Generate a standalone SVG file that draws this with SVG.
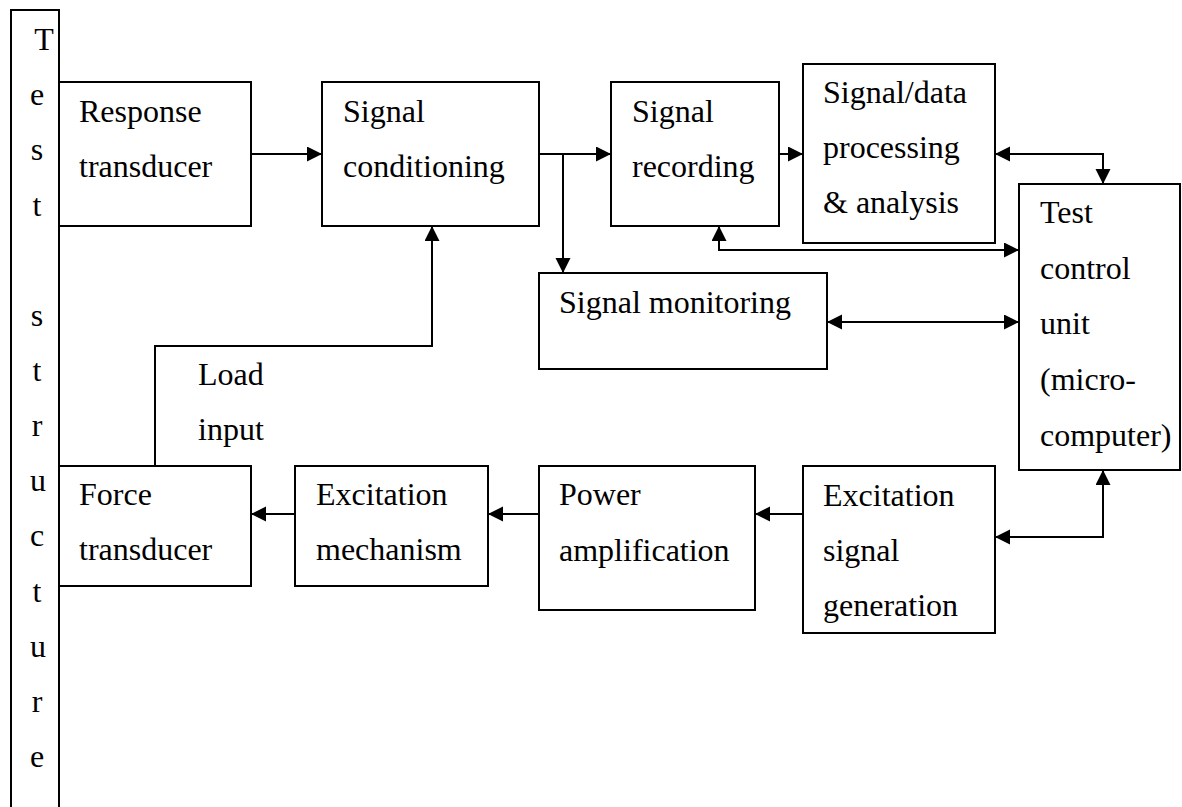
<svg xmlns="http://www.w3.org/2000/svg" width="1182" height="807" viewBox="0 0 1182 807">
  <style>
    .box { fill: #ffffff; stroke: #000000; stroke-width: 2; }
    .lbl { font-family: "Liberation Serif", "Times New Roman", serif; font-size: 32px; fill: #000000; }
    .ch { font-family: "Liberation Serif", "Times New Roman", serif; font-size: 32px; fill: #000000; text-anchor: middle; }
    .wire { fill: none; stroke: #000000; stroke-width: 2; }
    .a1 { marker-end: url(#arr); }
    .a2 { marker-start: url(#arr); marker-end: url(#arr); }
  </style>
  <defs>
    <marker id="arr" markerUnits="userSpaceOnUse" markerWidth="16" markerHeight="16" refX="15" refY="7.5" orient="auto-start-reverse">
      <path d="M0,0 L15,7.5 L0,15 z" fill="#000000"/>
    </marker>
  </defs>
  <rect width="1182" height="807" fill="#ffffff"/>

  <g id="test-structure">
    <rect class="box" x="11" y="10" width="48" height="820"/>
    <text class="ch" x="44" y="50">T</text>
    <text class="ch" x="37" y="105">e</text>
    <text class="ch" x="37" y="160">s</text>
    <text class="ch" x="37" y="215.5">t</text>
    <text class="ch" x="37" y="326">s</text>
    <text class="ch" x="37" y="381">t</text>
    <text class="ch" x="37" y="436">r</text>
    <text class="ch" x="38" y="491">u</text>
    <text class="ch" x="37" y="546">c</text>
    <text class="ch" x="37" y="601.5">t</text>
    <text class="ch" x="38" y="657">u</text>
    <text class="ch" x="37" y="712">r</text>
    <text class="ch" x="37" y="767">e</text>
  </g>

  <g id="connectors">
    <path class="wire a1" d="M251,154 H322"/>
    <path class="wire a1" d="M539,154 H611"/>
    <path class="wire a1" d="M563,154 V273"/>
    <path class="wire a1" d="M779,154 H803"/>
    <path class="wire a2" d="M995,154 H1103 V184"/>
    <path class="wire a2" d="M719,226 V250 H1019"/>
    <path class="wire a2" d="M827,322 H1019"/>
    <path class="wire a1" d="M155,466 V346 H432 V226"/>
    <path class="wire a1" d="M295,514 H251"/>
    <path class="wire a1" d="M539,514 H488"/>
    <path class="wire a1" d="M803,514 H755"/>
    <path class="wire a2" d="M995,537 H1103 V470"/>
    <text class="lbl" x="198" y="385">Load</text>
    <text class="lbl" x="198" y="440">input</text>
  </g>

  <g id="response-transducer">
    <rect class="box" x="59" y="82" width="192" height="144"/>
    <text class="lbl" x="79" y="122">Response</text>
    <text class="lbl" x="79" y="177">transducer</text>
  </g>

  <g id="signal-conditioning">
    <rect class="box" x="322" y="82" width="217" height="144"/>
    <text class="lbl" x="343" y="122">Signal</text>
    <text class="lbl" x="343" y="177">conditioning</text>
  </g>

  <g id="signal-recording">
    <rect class="box" x="611" y="82" width="168" height="144"/>
    <text class="lbl" x="632" y="122">Signal</text>
    <text class="lbl" x="632" y="177">recording</text>
  </g>

  <g id="signal-data-processing">
    <rect class="box" x="803" y="64" width="192" height="179"/>
    <text class="lbl" x="823" y="103">Signal/data</text>
    <text class="lbl" x="823" y="158">processing</text>
    <text class="lbl" x="823" y="213">&amp; analysis</text>
  </g>

  <g id="test-control-unit">
    <rect class="box" x="1019" y="184" width="161" height="286"/>
    <text class="lbl" x="1040" y="223">Test</text>
    <text class="lbl" x="1040" y="279">control</text>
    <text class="lbl" x="1040" y="334">unit</text>
    <text class="lbl" x="1040" y="390">(micro-</text>
    <text class="lbl" x="1040" y="446">computer)</text>
  </g>

  <g id="signal-monitoring">
    <rect class="box" x="539" y="273" width="288" height="96"/>
    <text class="lbl" x="559" y="313">Signal monitoring</text>
  </g>

  <g id="force-transducer">
    <rect class="box" x="59" y="466" width="192" height="120"/>
    <text class="lbl" x="79" y="505">Force</text>
    <text class="lbl" x="79" y="560">transducer</text>
  </g>

  <g id="excitation-mechanism">
    <rect class="box" x="295" y="466" width="193" height="120"/>
    <text class="lbl" x="316" y="505">Excitation</text>
    <text class="lbl" x="316" y="560">mechanism</text>
  </g>

  <g id="power-amplification">
    <rect class="box" x="539" y="466" width="216" height="144"/>
    <text class="lbl" x="559" y="505">Power</text>
    <text class="lbl" x="559" y="561">amplification</text>
  </g>

  <g id="excitation-signal-generation">
    <rect class="box" x="803" y="466" width="192" height="167"/>
    <text class="lbl" x="823" y="506">Excitation</text>
    <text class="lbl" x="823" y="561">signal</text>
    <text class="lbl" x="823" y="616">generation</text>
  </g>
</svg>
